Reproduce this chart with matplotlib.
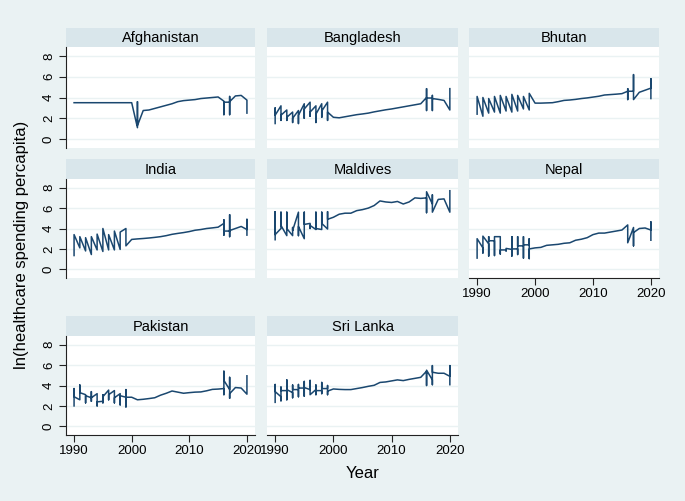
import matplotlib
matplotlib.use("Agg")
from matplotlib import pyplot as plt

plt.rcParams['font.family'] = ['Liberation Sans', 'DejaVu Sans']

# years 1990..2020, several observations for some years (drawn in data order)
years = list(range(1990, 2021))

afghanistan = [[3.5], [3.5], [3.5], [3.5], [3.5], [3.5], [3.5], [3.5], [3.5], [3.5],
               [3.5], [1.1, 3.6, 1.3], [2.75], [2.8], [2.95], [3.1], [3.25], [3.4], [3.6], [3.7],
               [3.75], [3.8], [3.9], [3.95], [4.0], [4.05],
               [3.65, 2.35, 3.55], [3.55, 2.35, 4.1, 3.6], [4.15], [4.2], [3.75, 2.5]]

bangladesh = [[1.5, 3.0, 2.3], [3.2, 1.8, 2.3], [2.8, 1.8, 2.1], [2.6, 1.6, 2.0], [2.75, 1.5, 2.3],
              [3.4, 2.0, 2.9], [3.55, 2.2, 2.6], [3.2, 1.6, 2.4], [3.4, 2.1, 2.7], [3.55, 1.8, 2.6],
              [2.1], [2.05], [2.15], [2.25], [2.35], [2.42], [2.5], [2.62], [2.72], [2.82],
              [2.9], [3.0], [3.1], [3.2], [3.3], [3.4],
              [4.0, 4.85, 2.75, 3.95], [3.95, 2.75, 4.2, 3.9], [3.82], [3.72], [2.8, 4.85]]

bhutan = [[2.4, 4.1], [2.2, 4.0], [2.5, 3.9], [2.6, 4.1], [2.5, 4.2],
          [2.7, 4.1], [2.6, 4.3], [2.7, 4.2], [2.9, 4.1], [2.8, 4.4],
          [3.46], [3.46], [3.48], [3.5], [3.6], [3.72], [3.76], [3.82], [3.9], [3.96],
          [4.04], [4.12], [4.24], [4.28], [4.32], [4.37],
          [4.6, 3.8, 4.85, 4.6], [4.6, 6.2, 3.8], [4.5], [4.7], [4.9, 5.8, 3.9]]

india = [[1.35, 3.4], [2.1, 3.2], [1.8, 3.1], [1.45, 3.2], [1.9, 3.45],
         [1.75, 4.0], [1.9, 3.4], [1.9, 3.75], [1.95, 3.65], [4.0, 2.3],
         [2.93], [2.98], [3.02], [3.07], [3.13], [3.2], [3.3], [3.43], [3.52], [3.6],
         [3.7], [3.83], [3.9], [4.0], [4.06], [4.13],
         [4.5, 3.35, 4.85, 3.75], [3.75, 5.35, 3.2, 3.8], [4.0], [4.2], [3.9, 4.9, 3.35]]

maldives = [[2.9, 5.65, 3.4], [4.0, 5.6, 4.3], [3.3, 5.6, 4.0], [3.3, 4.1, 3.8], [5.6, 3.3, 4.2],
            [3.0, 5.6, 4.4], [4.5, 4.0, 4.3], [3.9, 5.6, 4.0], [3.9, 5.6, 4.5], [3.95, 5.65, 4.9],
            [5.1], [5.4], [5.5], [5.5], [5.75], [5.85], [6.0], [6.25], [6.7], [6.6],
            [6.55], [6.65], [6.4], [6.6], [7.0], [6.95],
            [7.0, 5.55, 7.6], [6.4, 7.3, 5.6], [6.85], [6.9], [5.6, 7.7]]

nepal = [[1.1, 3.0], [2.1, 1.6, 3.25], [2.5, 1.3, 3.2, 2.8], [2.8, 1.35, 3.2], [3.2, 1.5, 1.9],
         [1.9, 1.8, 2.05], [1.95, 1.3, 3.2, 2.0], [2.0, 1.45, 3.2, 2.3], [2.3, 1.1, 3.2, 2.4], [2.4, 3.0, 1.05, 2.0],
         [2.1], [2.15], [2.35], [2.4], [2.45], [2.55], [2.6], [2.85], [2.95], [3.1],
         [3.4], [3.55], [3.55], [3.65], [3.75], [3.85],
         [4.35, 2.6], [4.1, 2.3, 3.6], [4.0], [4.05], [3.85, 4.65, 2.85]]

pakistan = [[2.0, 3.7, 2.9], [2.6, 4.05, 3.3], [3.1, 2.3, 3.0], [2.8, 3.4, 2.45, 2.8], [3.2, 2.0, 2.4],
            [2.45, 3.1, 2.3, 2.9], [3.55, 2.6, 3.1], [3.5, 2.3, 2.8], [3.2, 2.1, 3.0], [2.85, 3.6, 1.9, 2.85],
            [2.85], [2.6], [2.65], [2.72], [2.8], [3.05], [3.24], [3.46], [3.35], [3.24],
            [3.3], [3.35], [3.37], [3.48], [3.62], [3.65],
            [3.7, 3.1, 5.4, 4.5], [3.6, 4.8, 2.75, 3.2], [3.8], [3.75], [3.15, 4.95]]

sri_lanka = [[2.35, 4.1, 3.4], [2.9, 2.5, 3.85, 3.5], [3.5, 2.6, 4.55, 3.6], [3.3, 2.8, 4.05, 3.6], [3.6, 2.9, 4.1, 3.75],
             [3.75, 2.95, 4.4, 3.8], [3.6, 4.5, 3.1], [3.6, 4.05, 3.1, 3.5], [3.5, 3.2, 4.3, 3.7], [3.7, 4.0, 3.1, 3.45],
             [3.66], [3.62], [3.6], [3.6], [3.7], [3.8], [3.92], [4.02], [4.3], [4.35],
             [4.45], [4.55], [4.48], [4.6], [4.7], [4.8],
             [5.4, 4.0, 5.5], [4.55, 4.08, 5.95, 5.3], [5.2], [5.2], [4.9, 5.95, 4.08]]

countries = ["Afghanistan", "Bangladesh", "Bhutan", "India", "Maldives", "Nepal", "Pakistan", "Sri Lanka"]
series = [afghanistan, bangladesh, bhutan, india, maldives, nepal, pakistan, sri_lanka]

bg = '#EAF2F3'
strip_c = '#D9E6EB'
line_c = '#1A476F'

W, H = 685, 501
fig = plt.figure(figsize=(W / 100, H / 100), dpi=100, facecolor=bg)

cols = [(66, 255), (267, 458), (469, 659)]
rows = [(28, 47, 148), (159, 179, 278), (316, 336, 435)]
with_x = ["Nepal", "Pakistan", "Sri Lanka"]

for k, (name, groups) in enumerate(zip(countries, series)):
    r, c = divmod(k, 3)
    x0, x1 = cols[c]
    s_top, s_bot, p_bot = rows[r]

    # strip with the country name
    sax = fig.add_axes([x0 / W, 1 - s_bot / H, (x1 - x0) / W, (s_bot - s_top) / H])
    sax.set_facecolor(strip_c)
    sax.set_xticks([])
    sax.set_yticks([])
    for sp in sax.spines.values():
        sp.set_visible(False)
    sax.text(0.5, 0.47, name, ha='center', va='center', fontsize=10.5, transform=sax.transAxes)

    ax = fig.add_axes([x0 / W, 1 - p_bot / H, (x1 - x0) / W, (p_bot - s_bot) / H])
    ax.set_facecolor('white')
    xs, ys = [], []
    for yr, vals in zip(years, groups):
        for v in vals:
            xs.append(yr)
            ys.append(v)
    ax.plot(xs, ys, color=line_c, lw=1.1)

    ax.set_xlim(1988.6, 2021.4)
    ax.set_ylim(-0.85, 8.85)
    ax.set_yticks([0, 2, 4, 6, 8])
    ax.set_xticks([1990, 2000, 2010, 2020])
    ax.grid(axis='y', color=bg, lw=1)
    ax.set_axisbelow(True)
    for sp in ax.spines.values():
        sp.set_visible(False)

    if c == 0:
        ax.spines['left'].set_visible(True)
        ax.spines['left'].set_color('#222222')
        ax.tick_params(axis='y', length=5, color='#222222', labelsize=9.5, pad=3)
        for lab in ax.get_yticklabels():
            lab.set_rotation(90)
            lab.set_va('center')
    else:
        ax.tick_params(axis='y', length=0, labelleft=False)

    if name in with_x:
        ax.spines['bottom'].set_visible(True)
        ax.spines['bottom'].set_color('#222222')
        ax.tick_params(axis='x', length=5, color='#222222', labelsize=9.5, pad=2)
    else:
        ax.tick_params(axis='x', length=0, labelbottom=False)

fig.text(22 / W, 1 - 245 / H, "ln(healthcare spending percapita)", rotation=90,
         ha='center', va='center', fontsize=12)
fig.text(363 / W, 1 - 473 / H, "Year", ha='center', va='center', fontsize=12)

plt.savefig("out.png", dpi=100, facecolor=bg)
